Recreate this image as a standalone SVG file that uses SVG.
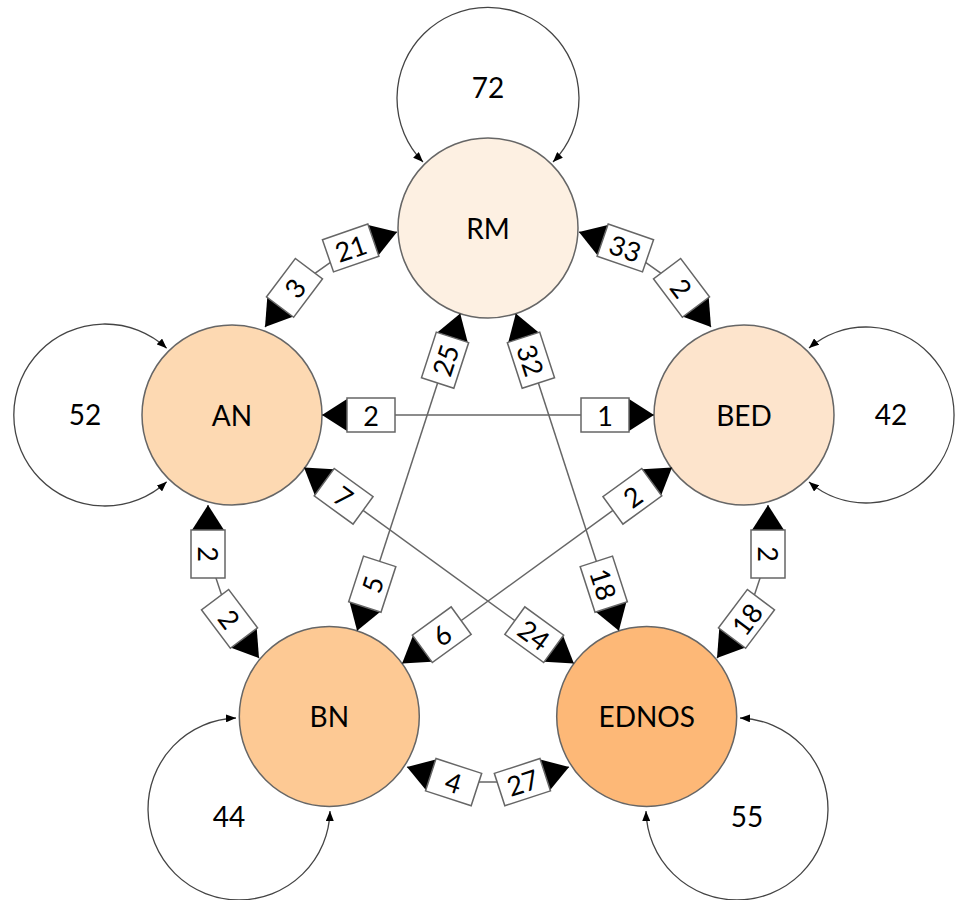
<svg xmlns="http://www.w3.org/2000/svg" width="955" height="900" viewBox="0 0 955 900">
<defs>
<marker id="sm" markerUnits="userSpaceOnUse" markerWidth="10" markerHeight="8" viewBox="0 0 10 8" refX="10" refY="4" orient="auto-start-reverse"><path d="M0,0 L10,4 L0,8 z" fill="#000"/></marker>
<style>
.node circle { stroke:#666; stroke-width:1.5; }
text { font-family: Lato, "Liberation Sans", sans-serif; fill:#000; text-anchor:middle; dominant-baseline:central; }
.nt { font-size:28px; }
.loop { fill:none; stroke:#444; stroke-width:1.3; marker-start:url(#sm); marker-end:url(#sm); }
.edge { fill:none; stroke:#666; stroke-width:1.5; }
.tri { fill:#000; }
.box { fill:#fff; stroke:#666; stroke-width:1.5; }
.lt { font-size:27px; }
</style>
</defs>
<rect width="955" height="900" fill="#fff"/>

<g id="loops">
<path class="loop" d="M423,162 A91,91 0 1 1 553,162"/>
<text class="nt" x="488" y="87">72</text>
<path class="loop" d="M166.7,348.3 A91,91 0 1 0 166.7,481.7"/>
<text class="nt" x="85" y="414">52</text>
<path class="loop" d="M809,348 A88,88 0 1 1 809,482"/>
<text class="nt" x="891" y="414">42</text>
<path class="loop" d="M236,718 A91,91 0 1 0 330,811"/>
<text class="nt" x="229" y="816">44</text>
<path class="loop" d="M740,718 A91,91 0 1 1 646,811"/>
<text class="nt" x="747" y="816">55</text>
</g>

<g id="RM" class="node"><circle cx="488" cy="228" r="90" fill="#FDF0E2"/><text class="nt" x="488" y="228">RM</text></g>
<g id="AN" class="node"><circle cx="232" cy="415" r="90" fill="#FDD9B2"/><text class="nt" x="232" y="415">AN</text></g>
<g id="BED" class="node"><circle cx="744" cy="415" r="90" fill="#FDE4CC"/><text class="nt" x="744" y="415">BED</text></g>
<g id="BN" class="node"><circle cx="329.3" cy="716.4" r="90" fill="#FDC994"/><text class="nt" x="329.3" y="716.4">BN</text></g>
<g id="EDNOS" class="node"><circle cx="646.7" cy="716.4" r="90" fill="#FDB877"/><text class="nt" x="646.7" y="716.4">EDNOS</text></g>

<g id="connectors">
<path class="edge" d="M265,327 L294.5,287.9 L350.7,248 L397,232"/>
<path class="edge" d="M579,232 L625.3,248 L681.5,287.9 L711,327"/>
<path class="edge" d="M208,505 L208,554 L229.5,618.9 L259,658"/>
<path class="edge" d="M768,505 L768,554 L746.5,618.9 L717,658"/>
<path class="edge" d="M407,767 L453.6,782.1 L522.4,782.1 L569,767"/>
<path class="edge" d="M460.2,313.6 L357.1,630.8"/>
<path class="edge" d="M515.8,313.6 L618.9,630.8"/>
<path class="edge" d="M304,467.5 L573.9,663.5"/>
<path class="edge" d="M672,467.5 L402.1,663.5"/>
<path class="edge" d="M322,415 L654,415"/>

<g transform="translate(397,232) rotate(-19)"><polygon class="tri" points="0,0 -25,-16 -25,16"/><rect class="box" x="-73" y="-17" width="48" height="34"/><text class="lt" x="-49" y="0">21</text></g>
<g transform="translate(265,327) rotate(127)"><polygon class="tri" points="0,0 -25,-16 -25,16"/><rect class="box" x="-73" y="-17" width="48" height="34"/><text class="lt" x="-49" y="0" transform="rotate(180 -49 0)">3</text></g>
<g transform="translate(579,232) rotate(-161)"><polygon class="tri" points="0,0 -25,-16 -25,16"/><rect class="box" x="-73" y="-17" width="48" height="34"/><text class="lt" x="-49" y="0" transform="rotate(180 -49 0)">33</text></g>
<g transform="translate(711,327) rotate(53)"><polygon class="tri" points="0,0 -25,-16 -25,16"/><rect class="box" x="-73" y="-17" width="48" height="34"/><text class="lt" x="-49" y="0">2</text></g>
<g transform="translate(208,505) rotate(-90)"><polygon class="tri" points="0,0 -25,-16 -25,16"/><rect class="box" x="-73" y="-17" width="48" height="34"/><text class="lt" x="-49" y="0" transform="rotate(180 -49 0)">2</text></g>
<g transform="translate(259,658) rotate(53)"><polygon class="tri" points="0,0 -25,-16 -25,16"/><rect class="box" x="-73" y="-17" width="48" height="34"/><text class="lt" x="-49" y="0">2</text></g>
<g transform="translate(768,505) rotate(-90)"><polygon class="tri" points="0,0 -25,-16 -25,16"/><rect class="box" x="-73" y="-17" width="48" height="34"/><text class="lt" x="-49" y="0" transform="rotate(180 -49 0)">2</text></g>
<g transform="translate(717,658) rotate(127)"><polygon class="tri" points="0,0 -25,-16 -25,16"/><rect class="box" x="-73" y="-17" width="48" height="34"/><text class="lt" x="-49" y="0" transform="rotate(180 -49 0)">18</text></g>
<g transform="translate(407,767) rotate(198)"><polygon class="tri" points="0,0 -25,-16 -25,16"/><rect class="box" x="-73" y="-17" width="48" height="34"/><text class="lt" x="-49" y="0" transform="rotate(180 -49 0)">4</text></g>
<g transform="translate(569,767) rotate(-18)"><polygon class="tri" points="0,0 -25,-16 -25,16"/><rect class="box" x="-73" y="-17" width="48" height="34"/><text class="lt" x="-49" y="0">27</text></g>
<g transform="translate(460.2,313.6) rotate(-72)"><polygon class="tri" points="0,0 -25,-16 -25,16"/><rect class="box" x="-73" y="-17" width="48" height="34"/><text class="lt" x="-49" y="0">25</text></g>
<g transform="translate(357.1,630.8) rotate(108)"><polygon class="tri" points="0,0 -25,-16 -25,16"/><rect class="box" x="-73" y="-17" width="48" height="34"/><text class="lt" x="-49" y="0" transform="rotate(180 -49 0)">5</text></g>
<g transform="translate(515.8,313.6) rotate(-108)"><polygon class="tri" points="0,0 -25,-16 -25,16"/><rect class="box" x="-73" y="-17" width="48" height="34"/><text class="lt" x="-49" y="0" transform="rotate(180 -49 0)">32</text></g>
<g transform="translate(618.9,630.8) rotate(72)"><polygon class="tri" points="0,0 -25,-16 -25,16"/><rect class="box" x="-73" y="-17" width="48" height="34"/><text class="lt" x="-49" y="0">18</text></g>
<g transform="translate(304,467.5) rotate(-144)"><polygon class="tri" points="0,0 -25,-16 -25,16"/><rect class="box" x="-73" y="-17" width="48" height="34"/><text class="lt" x="-49" y="0" transform="rotate(180 -49 0)">7</text></g>
<g transform="translate(573.9,663.5) rotate(36)"><polygon class="tri" points="0,0 -25,-16 -25,16"/><rect class="box" x="-73" y="-17" width="48" height="34"/><text class="lt" x="-49" y="0">24</text></g>
<g transform="translate(672,467.5) rotate(-36)"><polygon class="tri" points="0,0 -25,-16 -25,16"/><rect class="box" x="-73" y="-17" width="48" height="34"/><text class="lt" x="-49" y="0">2</text></g>
<g transform="translate(402.1,663.5) rotate(144)"><polygon class="tri" points="0,0 -25,-16 -25,16"/><rect class="box" x="-73" y="-17" width="48" height="34"/><text class="lt" x="-49" y="0" transform="rotate(180 -49 0)">6</text></g>
<g transform="translate(322,415) rotate(180)"><polygon class="tri" points="0,0 -25,-16 -25,16"/><rect class="box" x="-73" y="-17" width="48" height="34"/><text class="lt" x="-49" y="0" transform="rotate(180 -49 0)">2</text></g>
<g transform="translate(654,415)"><polygon class="tri" points="0,0 -25,-16 -25,16"/><rect class="box" x="-73" y="-17" width="48" height="34"/><text class="lt" x="-49" y="0">1</text></g>
</g>
</svg>
